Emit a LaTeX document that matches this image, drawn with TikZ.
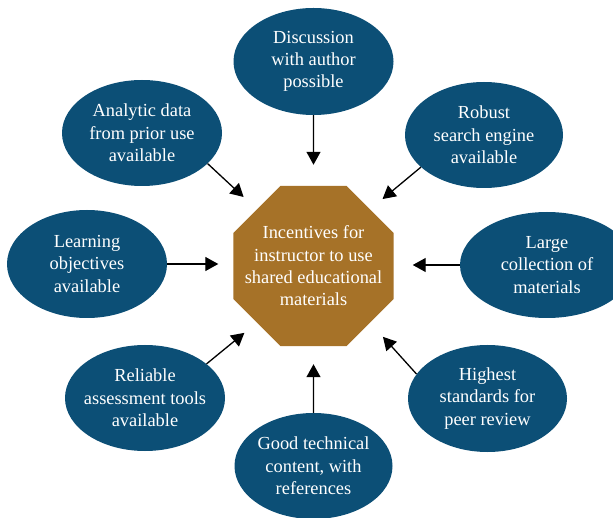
\documentclass[tikz,border=0pt]{standalone}
\usepackage{fontspec}
\setmainfont{Liberation Serif}
\usetikzlibrary{shapes.geometric,arrows.meta}
\definecolor{bubble}{RGB}{12,79,118}
\definecolor{hub}{RGB}{166,114,40}
\tikzset{
  bubble/.style={ellipse, fill=bubble, draw=none, text=white, align=center,
    inner sep=-16pt, font=\fontsize{18.4}{22.3}\selectfont},
  hubshape/.style={regular polygon, regular polygon sides=8, fill=hub, draw=none,
    text=white, align=center, inner sep=-14pt, minimum size=173.2pt,
    font=\fontsize{18.4}{22.3}\selectfont},
  feed/.style={line width=1.3pt, -{Triangle[length=13pt,width=14pt]}}
}
\begin{document}
\begin{tikzpicture}[x=1pt,y=-1pt]
\useasboundingbox (0,0) rectangle (613,518);
\clip (0,0) rectangle (613,518);

% central octagon
\node[hubshape] (oct) at (313.5,266) {Incentives for\\instructor to use\\shared educational\\materials};

% surrounding incentives
\node[bubble, minimum width=160pt, minimum height=107pt] (dis) at (313.5,61.5) {Discussion\\with author\\possible};
\node[bubble, minimum width=160pt, minimum height=106pt] (ana) at (142,133) {Analytic data\\from prior use\\available};
\node[bubble, minimum width=158pt, minimum height=106pt] (rob) at (484,135) {Robust\\search engine\\available};
\node[bubble, minimum width=160pt, minimum height=108pt] (lea) at (87,264) {Learning\\objectives\\available};
\node[bubble, minimum width=174pt, minimum height=106pt] (lar) at (547,265) {Large\\collection of\\materials};
\node[bubble, minimum width=160pt, minimum height=106pt] (rel) at (145,398) {Reliable\\assessment tools\\available};
\node[bubble, minimum width=159pt, minimum height=107pt] (hig) at (487.5,398.5) {Highest\\standards for\\peer review};
\node[bubble, minimum width=158pt, minimum height=106pt] (goo) at (313.5,466) {Good technical\\content, with\\references};

% arrows toward the octagon
\draw[feed, shorten >=21pt] (dis.south) -- (oct.north);
\draw[feed, shorten >=18pt] (goo.north) -- (oct.south);
\draw[feed, shorten >=15pt] (lea.east) -- (lea.east -| oct.west);
\draw[feed, shorten >=19pt] (lar.west) -- (lar.west -| oct.east);
\draw[feed, shorten >=18pt] (ana.-25) -- (oct.135);
\draw[feed, shorten >=16pt] (rob.-153) -- (oct.45);
\draw[feed, shorten >=16pt] (rel.29) -- (oct.-135);
\draw[feed, shorten >=19pt] (hig.161) -- (oct.-45);
\end{tikzpicture}
\end{document}
